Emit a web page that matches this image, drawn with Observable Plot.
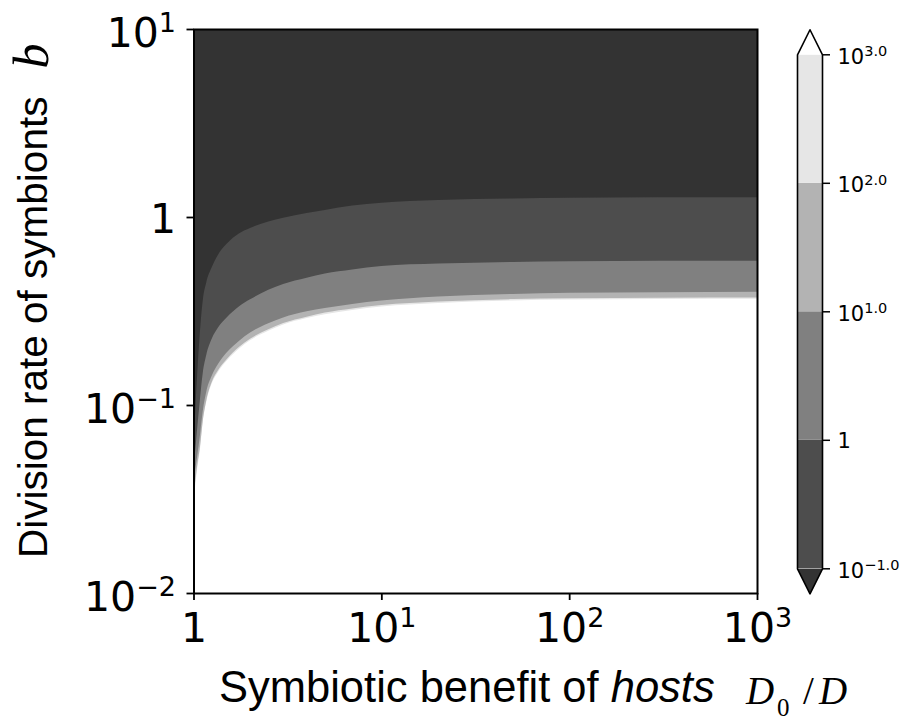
<!DOCTYPE html>
<html><head><meta charset="utf-8">
<script src="https://cdn.jsdelivr.net/npm/d3@7"></script>
<script src="https://cdn.jsdelivr.net/npm/@observablehq/plot@0.6"></script>
<style>
body{margin:0;background:#fff;}
#wrap{position:relative;width:904px;height:720px;overflow:hidden;}
#wrap svg{position:absolute;top:0;}
</style></head><body><div id="wrap"></div>
<script>
// ---- data ----
// symbiotic benefit of hosts, D0/D (x samples)
const benefit = [1, 1.01, 1.02, 1.03, 1.05, 1.08, 1.12, 1.17, 1.25, 1.35, 1.5, 1.75, 2, 2.5, 3, 4, 5, 7, 10, 20, 50, 100, 300, 1000];
// division rate b on each filled-contour boundary
const level_0p1  = [0.065, 0.075, 0.09, 0.11, 0.155, 0.24, 0.36, 0.45, 0.54, 0.63, 0.72, 0.82, 0.875, 0.945, 0.99, 1.05, 1.09, 1.15, 1.19, 1.23, 1.255, 1.265, 1.272, 1.275];
const level_1    = [0.048, 0.052, 0.057, 0.063, 0.078, 0.105, 0.148, 0.185, 0.225, 0.258, 0.292, 0.335, 0.365, 0.41, 0.44, 0.475, 0.50, 0.525, 0.548, 0.565, 0.577, 0.582, 0.585, 0.586];
const level_10   = [0.038, 0.041, 0.045, 0.048, 0.055, 0.068, 0.093, 0.118, 0.143, 0.165, 0.19, 0.22, 0.243, 0.272, 0.292, 0.315, 0.328, 0.345, 0.36, 0.378, 0.39, 0.395, 0.398, 0.40];
const level_100  = [0.034, 0.036, 0.039, 0.042, 0.049, 0.059, 0.0825, 0.106, 0.1325, 0.153, 0.175, 0.204, 0.225, 0.253, 0.273, 0.295, 0.31, 0.326, 0.34, 0.355, 0.366, 0.37, 0.372, 0.373];
const level_1000 = [0.031, 0.034, 0.037, 0.040, 0.047, 0.057, 0.081, 0.104, 0.130, 0.150, 0.172, 0.200, 0.221, 0.248, 0.268, 0.29, 0.304, 0.32, 0.334, 0.349, 0.36, 0.364, 0.366, 0.367];

const levels = [0.1, 1, 10, 100, 1000];
const bandColors = ["#4d4d4d", "#808080", "#b3b3b3", "#e6e6e6"];
const underColor = "#333333";
const overColor = "#ffffff";

const xTicks = [1, 10, 100, 1000];
const xTickLabels = ["1", "10^1", "10^2", "10^3"];
const yTicks = [0.01, 0.1, 1, 10];
const yTickLabels = ["10^\u22122", "10^\u22121", "1", "10^1"];
const cbTickLabels = ["10^\u22121.0", "1", "10^1.0", "10^2.0", "10^3.0"];

// ---- build table ----
const rows = benefit.map((x, i) => ({
  x, c0: level_0p1[i], c1: level_1[i], c2: level_10[i], c3: level_100[i], c4: level_1000[i]
}));

const TICKFONT = "'DejaVu Sans', sans-serif";
const wrap = document.getElementById("wrap");

// ---- main panel ----
const main = Plot.plot({
  width: 904, height: 720,
  marginLeft: 193.5, marginRight: 147, marginTop: 29, marginBottom: 127,
  style: {background: "transparent", overflow: "visible"},
  x: {type: "log", domain: [1, 1000]},
  y: {type: "log", domain: [0.01, 10]},
  marks: [
    Plot.areaY(rows, {x: "x", y1: "c4", y2: 10, fill: bandColors[3], curve: "monotone-x", clip: true}),
    Plot.areaY(rows, {x: "x", y1: "c3", y2: 10, fill: bandColors[2], curve: "monotone-x", clip: true}),
    Plot.areaY(rows, {x: "x", y1: "c2", y2: 10, fill: bandColors[1], curve: "monotone-x", clip: true}),
    Plot.areaY(rows, {x: "x", y1: "c1", y2: 10, fill: bandColors[0], curve: "monotone-x", clip: true}),
    Plot.areaY(rows, {x: "x", y1: "c0", y2: 10, fill: underColor, curve: "monotone-x", clip: true}),
    Plot.axisX({ticks: xTicks, tickFormat: (d) => xTickLabels[xTicks.indexOf(d)], tickSize: 7, tickPadding: 12,
      fontSize: 41, fontFamily: TICKFONT, label: null, strokeWidth: 1.8, stroke: "black"}),
    Plot.axisY({ticks: yTicks, tickFormat: (d) => yTickLabels[yTicks.indexOf(d)], tickSize: 7, tickPadding: 11,
      fontSize: 41, fontFamily: TICKFONT, label: null, strokeWidth: 1.8, stroke: "black"}),
    Plot.frame({stroke: "black", strokeWidth: 2})
  ]
});
wrap.appendChild(main);

// ---- colorbar ----
const extend = 0.195; // extension triangle length, in decades
const cbRows = levels.slice(0, -1).map((lo, i) => ({lo, hi: levels[i + 1], fill: bandColors[i]}));
const topApex = levels[levels.length - 1] * Math.pow(10, extend);
const botApex = levels[0] / Math.pow(10, extend);
const topTri = [{x: 0, y: levels[4]}, {x: 0.5, y: topApex}, {x: 1, y: levels[4]}];
const botTri = [{x: 0, y: levels[0]}, {x: 0.5, y: botApex}, {x: 1, y: levels[0]}];
const outline = [
  {x: 0, y: levels[0]}, {x: 0, y: levels[4]}, {x: 0.5, y: topApex}, {x: 1, y: levels[4]},
  {x: 1, y: levels[0]}, {x: 0.5, y: botApex}, {x: 0, y: levels[0]}
];
const cb = Plot.plot({
  width: 124, height: 720,
  marginLeft: 17, marginRight: 82, marginTop: 54.3, marginBottom: 151.7,
  style: {background: "transparent", overflow: "visible"},
  x: {domain: [0, 1], axis: null},
  y: {type: "log", domain: [0.1, 1000], axis: null},
  marks: [
    Plot.rect(cbRows, {x1: 0, x2: 1, y1: "lo", y2: "hi", fill: "fill"}),
    Plot.line(topTri, {x: "x", y: "y", fill: overColor, stroke: "none"}),
    Plot.line(botTri, {x: "x", y: "y", fill: underColor, stroke: "none"}),
    Plot.line(outline, {x: "x", y: "y", stroke: "black", strokeWidth: 1.6, curve: "linear"}),
    Plot.axisY({anchor: "right", ticks: levels, tickFormat: (d) => cbTickLabels[levels.indexOf(d)], tickSize: 7, tickPadding: 8,
      fontSize: 21, fontFamily: TICKFONT, label: null, strokeWidth: 1.5, stroke: "black"})
  ]
});
cb.style.left = "780px";
wrap.appendChild(cb);

// ---- superscripts in tick labels ----
function supify(svg, sel, supSize, raise, shiftSup, shiftPlain) {
  d3.select(svg).selectAll(sel).each(function () {
    const t = d3.select(this);
    const s = t.text();
    if (s.indexOf("^") < 0) {
      t.text(null);
      t.append("tspan").attr("dy", shiftPlain + "px").text(s);
      return;
    }
    const [base, sup] = s.split("^");
    t.text(null);
    t.append("tspan").attr("dy", shiftSup + "px").text(base);
    t.append("tspan").attr("dy", (-raise) + "px").attr("font-size", supSize).text(sup);
  });
}
supify(main, 'g[aria-label="x-axis tick label"] text', 27, 14.3, 0, 0);
supify(main, 'g[aria-label="y-axis tick label"] text', 27, 14.3, 4, 2);
supify(cb, 'g[aria-label="y-axis tick label"] text', 14.5, 7.5, 2, 1);

// ---- axis titles ----
const svg = d3.select(main);
const SANS = "'Liberation Sans', Arial, sans-serif";
const SERIF = "'Liberation Serif', 'DejaVu Serif', serif";
const xl = svg.append("text").attr("x", 219).attr("y", 702).attr("text-anchor", "start")
  .attr("font-family", SANS).attr("font-size", 43.5).attr("fill", "black");
xl.append("tspan").text("Symbiotic benefit of ");
xl.append("tspan").attr("font-style", "italic").text("hosts");

svg.append("text").attr("x", 746).attr("y", 704).attr("text-anchor", "start").attr("font-family", SERIF).attr("font-style", "italic").attr("font-size", 39).text("D");
svg.append("text").attr("x", 777).attr("y", 716).attr("text-anchor", "start").attr("font-family", SERIF).attr("font-size", 25).text("0");
svg.append("text").attr("x", 803).attr("y", 704).attr("text-anchor", "start").attr("font-family", SERIF).attr("font-size", 39).text("/");
svg.append("text").attr("x", 819).attr("y", 704).attr("text-anchor", "start").attr("font-family", SERIF).attr("font-style", "italic").attr("font-size", 39).text("D");

svg.append("text").attr("transform", "translate(47,558) rotate(-90)").attr("text-anchor", "start")
  .attr("font-family", SANS).attr("font-size", 40.5).attr("fill", "black")
  .text("Division rate of symbionts");
svg.append("text").attr("transform", "translate(48,56) rotate(-90)").attr("text-anchor", "middle")
  .attr("font-family", SERIF).attr("font-style", "italic").attr("font-size", 50).text("b");
</script>
</body></html>
